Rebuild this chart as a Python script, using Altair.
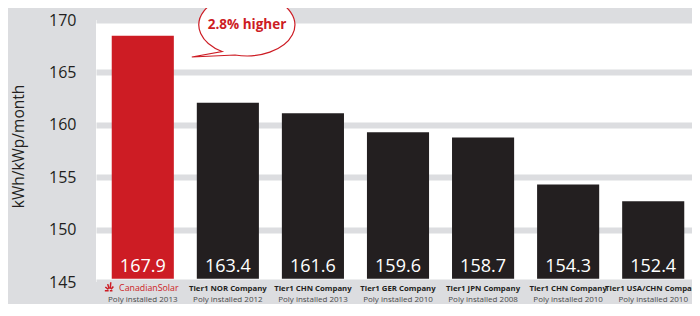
import altair as alt
import pandas as pd

companies = ["CanadianSolar", "Tier1 NOR Company", "Tier1 CHN Company", "Tier1 GER Company",
             "Tier1 JPN Company", "Tier1 CHN Company ", "Tier1 USA/CHN Company"]
installed = ["Poly installed 2013", "Poly installed 2012", "Poly installed 2013", "Poly installed 2010",
             "Poly installed 2008", "Poly installed 2010", "Poly installed 2010"]
labels = [167.9, 163.4, 161.6, 159.6, 158.7, 154.3, 152.4]
bar_tops = [168.5, 162.1, 161.1, 159.3, 158.8, 154.3, 152.7]
highlight = [True, False, False, False, False, False, False]
y_ticks = [145, 150, 155, 160, 165, 170]
callout = "2.8% higher"

RED = "#cd1c24"
DARK = "#231f20"
GRAY_BG = "#dcdde0"

df = pd.DataFrame({
    "company": companies,
    "installed": installed,
    "label": [f"{v:.1f}" for v in labels],
    "top": bar_tops,
    "hl": highlight,
})

W, H = 604, 262
xenc = alt.X("company:N", sort=companies, axis=None,
             scale=alt.Scale(paddingInner=0, paddingOuter=0.05))

base = alt.Chart(df).encode(x=xenc)

bars = base.mark_bar(width=alt.RelativeBandSize(0.73)).encode(
    y=alt.Y("top:Q", scale=alt.Scale(domain=[145, 170], nice=False, zero=False),
            axis=alt.Axis(values=y_ticks, grid=True, gridColor=GRAY_BG, gridWidth=6,
                          domain=False, ticks=False, labelFontSize=16, labelColor=DARK,
                          labelFont="Open Sans", labelPadding=20,
                          title="kWh/kWp/month", titleFont="Open Sans", titleFontSize=15.5,
                          titleFontWeight="normal", titleColor=DARK, titleAngle=-90,
                          titleX=-78, titleY=126, titleAlign="center", titleBaseline="middle")),
    y2=alt.datum(145.3),
    color=alt.Color("hl:N", scale=alt.Scale(domain=[True, False], range=[RED, DARK]), legend=None),
)

values = base.mark_text(color="white", fontSize=18, font="Open Sans", baseline="alphabetic",
                        dy=-10).encode(text="label:N", y=alt.value(H))

line1 = alt.Chart(df[~df["hl"]]).mark_text(fontSize=7.8, fontWeight="bold", font="Open Sans",
                                           color=DARK, baseline="middle").encode(
    x=xenc, text="company:N", y=alt.value(H + 7))

brand = alt.Chart(df[df["hl"]]).mark_text(fontSize=8.8, font="Open Sans", color=RED,
                                          baseline="middle", dx=6).encode(
    x=xenc, text="company:N", y=alt.value(H + 5.5))

# half-sun logo, drawn left of the brand name (path units: 1 unit = sqrt(size)/2 px)
logo_path = ("M -7.2,0.9 L -8,0.9 M -7.25,0.6 L -7.9,0.1 M -7.1,0.45 L -7.4,-0.5 "
             "M -6.85,0.45 L -6.75,-0.9 M -6.7,0.6 L -6.2,0 M -6.95,0.9 L -6.4,0.9")
logo = alt.Chart(df[df["hl"]]).mark_point(shape=logo_path, size=90, stroke=RED, strokeWidth=1.5,
                                          filled=False, opacity=1).encode(
    x=xenc, y=alt.value(H + 4.5))

line2 = base.mark_text(fontSize=8.0, font="Open Sans", color="#4a4a4a", baseline="middle").encode(
    text="installed:N", y=alt.value(H + 17.5))

bubble_path = "M -0.25,0.625 A 1,0.646 0 1 0 -0.52,0.552 L -1.15,0.667 Z"
bubble_df = pd.DataFrame({"t": [callout]})
bubble = alt.Chart(bubble_df).mark_point(shape=bubble_path, size=9216, fill="white", filled=True,
                                         stroke=RED, strokeWidth=1.2, opacity=1).encode(
    x=alt.value(151), y=alt.value(5))
bubble_text = alt.Chart(bubble_df).mark_text(fontSize=13.5, fontWeight="bold", font="Open Sans",
                                             color=RED, baseline="middle").encode(
    x=alt.value(151), y=alt.value(5), text="t:N")

chart = alt.layer(bars, values, line1, brand, logo, line2, bubble, bubble_text).properties(
    width=W, height=H,
    autosize=alt.AutoSizeParams(type="none"),
    padding={"left": 88, "top": 12, "right": -8, "bottom": 22},
    background=GRAY_BG,
).configure_view(fill="white", stroke=None)

chart.save("out.html", embed_options={"renderer": "svg", "actions": False})
